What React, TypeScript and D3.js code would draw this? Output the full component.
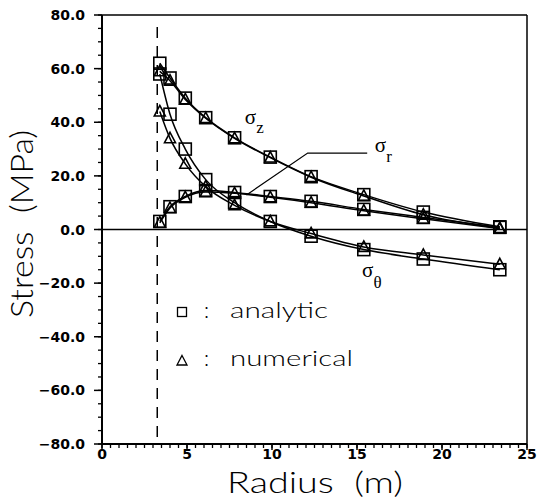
import React from "react";
import * as d3 from "d3";

const radius = [3.4, 4.0, 4.9, 6.1, 7.8, 9.9, 12.3, 15.4, 18.9, 23.4];
const szAnalytic = [62, 56.5, 49, 41.7, 34.2, 27, 19.7, 13, 6.5, 1];
const szNumerical = [59, 55.5, 48.5, 41.5, 34, 26.8, 19.5, 12.5, 5.5, 0.5];
const srAnalytic = [3, 8.5, 12.3, 14.5, 13.8, 12.3, 10.5, 7.5, 4.5, 0.8];
const srNumerical = [2.5, 8, 12, 14, 13.5, 12, 10, 7, 4, 0.3];
const stAnalytic = [58, 43, 30, 18.6, 10, 3, -2.5, -7.5, -11, -15];
const stNumerical = [44, 34, 24.5, 16, 9, 3, -1.5, -6.5, -9.5, -13];

const xMajor = [0, 5, 10, 15, 20, 25];
const yMajor = [80, 60, 40, 20, 0, -20, -40, -60, -80];
const yTickLabels = ["80.0", "60.0", "40.0", "20.0", "0.0", "\u221220.0", "\u221240.0", "\u221260.0", "\u221280.0"];
const innerRadius = 3.25;
const leaderR = [8.5, 12.1, 15.6];
const leaderS = [12.9, 28.5, 28.5];

const W = 537, H = 501;
const left = 102, right = 527, top = 15, bottom = 444;

export default function App() {
  const x = d3.scaleLinear().domain([0, 25]).range([left, right]);
  const y = d3.scaleLinear().domain([-80, 80]).range([bottom, top]);
  const line = d3
    .line<[number, number]>()
    .x((d) => x(d[0]))
    .y((d) => y(d[1]))
    .curve(d3.curveMonotoneX);
  const series = [szAnalytic, szNumerical, srAnalytic, srNumerical, stAnalytic, stNumerical];
  const analytic = [szAnalytic, srAnalytic, stAnalytic];
  const numerical = [szNumerical, srNumerical, stNumerical];
  const xMinor = d3.range(0, 25.01, 0.5);
  const yMinor = d3.range(-80, 80.01, 5);
  const leader = d3.line<number>().x((_, i) => x(leaderR[i])).y((_, i) => y(leaderS[i]));
  const sq = 12;
  const tri = (cx: number, cy: number, s: number) =>
    `M${cx},${cy - s * 0.55}L${cx + s / 2},${cy + s * 0.4}L${cx - s / 2},${cy + s * 0.4}Z`;
  const thin = "Lato, 'DejaVu Sans'";

  return (
    <svg width={W} height={H} style={{ position: "absolute", left: 0, top: 0, background: "#fff" }}>
      {/* frame */}
      <line x1={left} x2={right} y1={top} y2={top} stroke="#000" strokeWidth={1.5} />
      <line x1={right} x2={right} y1={top} y2={bottom} stroke="#000" strokeWidth={1.5} />
      <line x1={left} x2={left} y1={top} y2={bottom} stroke="#000" strokeWidth={2} />
      <line x1={left} x2={right} y1={bottom} y2={bottom} stroke="#000" strokeWidth={2} />
      {/* zero line */}
      <line x1={left} x2={right} y1={y(0)} y2={y(0)} stroke="#000" strokeWidth={1.5} />
      {/* y ticks */}
      {yMinor.map((v) => (
        <line key={"ym" + v} x1={left - 4} x2={left} y1={y(v)} y2={y(v)} stroke="#000" strokeWidth={1.3} />
      ))}
      {yMajor.map((v, i) => (
        <g key={"yM" + v}>
          <line x1={left - 8} x2={left} y1={y(v)} y2={y(v)} stroke="#000" strokeWidth={1.5} />
          <text
            x={85}
            y={y(v)}
            dy="0.36em"
            textAnchor="end"
            fontFamily="DejaVu Sans"
            fontWeight="bold"
            fontSize={14}
          >
            {yTickLabels[i]}
          </text>
        </g>
      ))}
      {/* x ticks */}
      {xMinor.map((v) => (
        <line key={"xm" + v} x1={x(v)} x2={x(v)} y1={bottom} y2={bottom + 4} stroke="#000" strokeWidth={1.3} />
      ))}
      {xMajor.map((v) => (
        <g key={"xM" + v}>
          <line x1={x(v)} x2={x(v)} y1={bottom} y2={bottom + 6} stroke="#000" strokeWidth={1.5} />
          <text x={x(v)} y={459} textAnchor="middle" fontFamily="DejaVu Sans" fontWeight="bold" fontSize={14}>
            {v}
          </text>
        </g>
      ))}
      {/* inner radius dashed line */}
      <line
        x1={x(innerRadius)}
        x2={x(innerRadius)}
        y1={y(75.5)}
        y2={bottom}
        stroke="#000"
        strokeWidth={1.5}
        strokeDasharray="11 8"
      />
      {/* curves */}
      {series.map((s, i) => (
        <path
          key={"c" + i}
          d={line(radius.map((r, j) => [r, s[j]] as [number, number])) || ""}
          fill="none"
          stroke="#000"
          strokeWidth={1.5}
        />
      ))}
      {/* markers */}
      {analytic.map((s, i) =>
        radius.map((r, j) => (
          <rect
            key={"sq" + i + "-" + j}
            x={x(r) - sq / 2}
            y={y(s[j]) - sq / 2}
            width={sq}
            height={sq}
            fill="none"
            stroke="#000"
            strokeWidth={1.6}
          />
        ))
      )}
      {numerical.map((s, i) =>
        radius.map((r, j) => (
          <path key={"tr" + i + "-" + j} d={tri(x(r), y(s[j]), 11)} fill="none" stroke="#000" strokeWidth={1.6} />
        ))
      )}
      {/* leader line for sigma r */}
      <path d={leader(leaderR) || ""} fill="none" stroke="#000" strokeWidth={1.2} />
      {/* sigma labels */}
      <text x={x(8.4)} y={y(39.4)} fontFamily="Liberation Serif" fontSize={21}>
        σ<tspan dy={9} fontSize={17}>z</tspan>
      </text>
      <text x={x(16.05)} y={y(29)} fontFamily="Liberation Serif" fontSize={21}>
        σ<tspan dy={10} fontSize={17}>r</tspan>
      </text>
      <text x={x(15.3)} y={y(-17.7)} fontFamily="Liberation Serif" fontSize={21}>
        σ<tspan dy={11} fontSize={17}>θ</tspan>
      </text>
      {/* legend */}
      <rect x={182 - 4.5} y={312 - 4.5} width={9} height={9} fill="none" stroke="#000" strokeWidth={1.3} />
      <path d={tri(182, 361, 10)} fill="none" stroke="#000" strokeWidth={1.3} />
      <text x={204} y={318} fontFamily={thin} fontWeight={300} fontSize={21}>:</text>
      <text x={204} y={366} fontFamily={thin} fontWeight={300} fontSize={21}>:</text>
      <text x={230} y={318} fontFamily={thin} fontWeight={300} fontSize={22} textLength={98} lengthAdjust="spacingAndGlyphs">analytic</text>
      <text x={230} y={366} fontFamily={thin} fontWeight={300} fontSize={22} textLength={123} lengthAdjust="spacingAndGlyphs">numerical</text>
      {/* axis titles */}
      <text
        x={315}
        y={493}
        textAnchor="middle"
        fontFamily={thin}
        fontWeight={300}
        fontSize={30}
        textLength={176}
        lengthAdjust="spacingAndGlyphs"
        style={{ whiteSpace: "pre" }}
      >
        {"Radius  (m)"}
      </text>
      <text
        transform={`translate(33,224) rotate(-90)`}
        textAnchor="middle"
        fontFamily={thin}
        fontWeight={300}
        fontSize={32}
        textLength={188}
        lengthAdjust="spacingAndGlyphs"
        style={{ whiteSpace: "pre" }}
      >
        {"Stress  (MPa)"}
      </text>
    </svg>
  );
}
